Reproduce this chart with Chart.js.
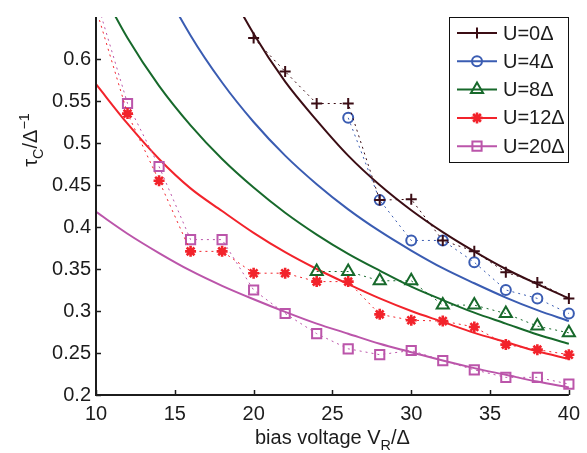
<!DOCTYPE html>
<html>
<head>
<meta charset="utf-8">
<script src="https://cdn.jsdelivr.net/npm/chart.js@4.4.0/dist/chart.umd.min.js"></script>
<style>
html, body { margin: 0; padding: 0; background: #fff; }
#wrap { width: 587px; height: 453px; }
</style>
</head>
<body>
<div id="wrap"><canvas id="tauChart"></canvas></div>
<script>
var seriesNames = ['U=0\u0394', 'U=4\u0394', 'U=8\u0394', 'U=12\u0394', 'U=20\u0394'];
var seriesColors = ['#3b0d14', '#3a5cb2', '#17692b', '#f2232b', '#bb55aa'];
var markerStyles = ['cross', 'circle', 'triangle', 'star', 'rect'];
var markerSizes = [5.5, 5, 7, 5.5, 6.5];

var xTicks = [10, 15, 20, 25, 30, 35, 40];
var yTicks = [0.2, 0.25, 0.3, 0.35, 0.4, 0.45, 0.5, 0.55, 0.6];

// solid fitted curves, sampled every 2 units (null = far above the plot)
var fitX = [10, 12, 14, 16, 18, 20, 22, 24, 26, 28, 30, 32, 34, 36, 38, 40];
var fitU0 = [null, null, null, 0.788, 0.700, 0.630, 0.573, 0.527, 0.485, 0.450, 0.420, 0.394, 0.371, 0.350, 0.332, 0.315];
var fitU4 = [null, 0.782, 0.697, 0.628, 0.572, 0.525, 0.485, 0.451, 0.421, 0.395, 0.372, 0.351, 0.333, 0.316, 0.301, 0.288];
var fitU8 = [0.694, 0.625, 0.568, 0.521, 0.481, 0.447, 0.417, 0.391, 0.368, 0.348, 0.329, 0.313, 0.298, 0.285, 0.272, 0.261];
var fitU12 = [0.570, 0.523, 0.481, 0.446, 0.419, 0.393, 0.370, 0.350, 0.332, 0.315, 0.300, 0.287, 0.274, 0.263, 0.252, 0.243];
var fitU20 = [0.418, 0.392, 0.369, 0.348, 0.330, 0.314, 0.299, 0.285, 0.273, 0.261, 0.251, 0.241, 0.232, 0.224, 0.216, 0.209];

// simulated points (markers + dotted lines)
var ptX0 = [20, 22, 24, 26, 28, 30, 32, 34, 36, 38, 40];
var tauU0 = [0.625, 0.585, 0.547, 0.547, 0.432, 0.433, 0.384, 0.371, 0.346, 0.334, 0.315];
var ptX4 = [26, 28, 30, 32, 34, 36, 38, 40];
var tauU4 = [0.530, 0.432, 0.384, 0.384, 0.358, 0.325, 0.315, 0.297];
var ptX8 = [24, 26, 28, 30, 32, 34, 36, 38, 40];
var tauU8 = [0.347, 0.347, 0.336, 0.336, 0.307, 0.307, 0.297, 0.282, 0.274];
var ptX12 = [10, 12, 14, 16, 18, 20, 22, 24, 26, 28, 30, 32, 34, 36, 38, 40];
var tauU12 = [0.660, 0.535, 0.455, 0.371, 0.371, 0.345, 0.345, 0.335, 0.335, 0.296, 0.289, 0.288, 0.281, 0.260, 0.254, 0.248];
var ptX20 = [10, 12, 14, 16, 18, 20, 22, 24, 26, 28, 30, 32, 34, 36, 38, 40];
var tauU20 = [0.672, 0.547, 0.472, 0.385, 0.385, 0.325, 0.297, 0.273, 0.255, 0.248, 0.253, 0.241, 0.230, 0.221, 0.221, 0.213];

var fits = [fitU0, fitU4, fitU8, fitU12, fitU20];
var ptXs = [ptX0, ptX4, ptX8, ptX12, ptX20];
var taus = [tauU0, tauU4, tauU8, tauU12, tauU20];

function pairs(xs, ys) {
  var out = [];
  for (var i = 0; i < xs.length; i++) {
    if (ys[i] !== null) out.push({x: xs[i], y: ys[i]});
  }
  return out;
}

var FONT = "'Liberation Sans', Arial, Helvetica, sans-serif";
var FS = 20;
var AX = '#1c1c1c';

var datasets = [];
for (var i = 0; i < 5; i++) {
  datasets.push({
    label: seriesNames[i] + ' fit',
    data: pairs(fitX, fits[i]),
    showLine: true,
    borderColor: seriesColors[i],
    borderWidth: 2,
    pointRadius: 0,
    cubicInterpolationMode: 'monotone',
    clip: 0,
    order: 2
  });
  datasets.push({
    label: seriesNames[i],
    data: pairs(ptXs[i], taus[i]),
    showLine: true,
    borderColor: seriesColors[i],
    borderWidth: 1,
    borderDash: [2, 4],
    pointStyle: markerStyles[i],
    pointRadius: markerSizes[i],
    pointBorderWidth: i === 3 ? 2.6 : 2,
    pointBorderColor: seriesColors[i],
    pointBackgroundColor: i === 3 ? seriesColors[i] : 'rgba(0,0,0,0)',
    clip: {left: 10, right: 10, top: 0, bottom: 10},
    order: 1
  });
}

function drawRich(ctx, parts, x, y, size) {
  // parts: [text, shift] shift: 0 normal, 1 super, -1 sub
  var w = 0;
  parts.forEach(function (p) {
    ctx.font = (p[1] ? size * 0.72 : size) + 'px ' + FONT;
    w += ctx.measureText(p[0]).width;
  });
  var cx = x - w / 2;
  parts.forEach(function (p) {
    ctx.font = (p[1] ? size * 0.72 : size) + 'px ' + FONT;
    var dy = p[1] === 1 ? -size * 0.42 : (p[1] === -1 ? size * 0.3 : 0);
    ctx.fillText(p[0], cx, y + dy);
    cx += ctx.measureText(p[0]).width;
  });
}

var matlabLook = {
  id: 'matlabLook',
  afterDraw: function (chart) {
    var ctx = chart.ctx;
    var a = chart.chartArea;
    var xs = chart.scales.x, ys = chart.scales.y;
    ctx.save();
    // axes
    ctx.strokeStyle = AX;
    ctx.lineWidth = 2;
    ctx.beginPath();
    ctx.moveTo(a.left, a.top);
    ctx.lineTo(a.left, a.bottom);
    ctx.lineTo(a.right, a.bottom);
    ctx.stroke();
    // inward ticks
    ctx.lineWidth = 1.5;
    ctx.beginPath();
    yTicks.forEach(function (v) {
      var py = Math.round(ys.getPixelForValue(v)) + 0.5;
      ctx.moveTo(a.left, py);
      ctx.lineTo(a.left + 5, py);
    });
    xTicks.forEach(function (v) {
      var px = Math.round(xs.getPixelForValue(v)) + 0.5;
      ctx.moveTo(px, a.bottom);
      ctx.lineTo(px, a.bottom - 5);
    });
    ctx.stroke();

    // axis titles
    ctx.fillStyle = AX;
    ctx.textBaseline = 'alphabetic';
    ctx.textAlign = 'left';
    drawRich(ctx, [['bias voltage V', 0], ['R', -1], ['/\u0394', 0]], (a.left + a.right) / 2, 444, FS);
    ctx.save();
    ctx.translate(37, 140);
    ctx.rotate(-Math.PI / 2);
    drawRich(ctx, [['\u03c4', 0], ['C', -1], ['/\u0394', 0], ['\u22121', 1]], 0, 0, FS);
    ctx.restore();

    // legend
    var bx = 449, by = 17, bw = 119, bh = 145;
    ctx.fillStyle = '#fff';
    ctx.fillRect(bx, by, bw, bh);
    ctx.strokeStyle = '#111';
    ctx.lineWidth = 1;
    ctx.strokeRect(bx + 0.5, by + 0.5, bw, bh);
    for (var i = 0; i < seriesNames.length; i++) {
      var ry = 33 + i * 28.3;
      ctx.strokeStyle = seriesColors[i];
      ctx.lineWidth = 2;
      ctx.setLineDash([]);
      ctx.beginPath();
      ctx.moveTo(457, ry);
      ctx.lineTo(497, ry);
      ctx.stroke();
      ctx.fillStyle = i === 3 ? seriesColors[i] : 'rgba(0,0,0,0)';
      ctx.lineWidth = i === 3 ? 2.6 : 2;
      Chart.helpers.drawPoint(ctx, {
        pointStyle: markerStyles[i],
        radius: markerSizes[i],
        rotation: 0,
        borderWidth: ctx.lineWidth
      }, 477, ry);
      ctx.fillStyle = AX;
      ctx.font = FS + 'px ' + FONT;
      ctx.textBaseline = 'middle';
      ctx.fillText(seriesNames[i], 503, ry + 1);
    }
    ctx.restore();
  }
};

new Chart(document.getElementById('tauChart'), {
  type: 'scatter',
  data: {datasets: datasets},
  options: {
    responsive: true,
    maintainAspectRatio: false,
    animation: false,
    layout: {padding: {left: 0, right: 13, top: 12, bottom: 0}},
    plugins: {legend: {display: false}, tooltip: {enabled: false}},
    scales: {
      x: {
        type: 'linear',
        min: 10,
        max: 40,
        grid: {display: false, drawTicks: false},
        border: {display: false},
        afterBuildTicks: function (s) { s.ticks = xTicks.map(function (v) { return {value: v}; }); },
        afterFit: function (s) { s.height = 58; },
        ticks: {
          padding: 7,
          maxRotation: 0,
          color: AX,
          font: {family: FONT, size: FS},
          callback: function (v) { return String(v); }
        }
      },
      y: {
        type: 'linear',
        min: 0.2,
        max: 0.65,
        grid: {display: false, drawTicks: false},
        border: {display: false},
        afterBuildTicks: function (s) { s.ticks = yTicks.map(function (v) { return {value: v}; }); },
        afterFit: function (s) { s.width = 96; },
        ticks: {
          padding: 5,
          color: AX,
          font: {family: FONT, size: FS},
          callback: function (v) { return String(v); }
        }
      }
    }
  },
  plugins: [matlabLook]
});
</script>
</body>
</html>
